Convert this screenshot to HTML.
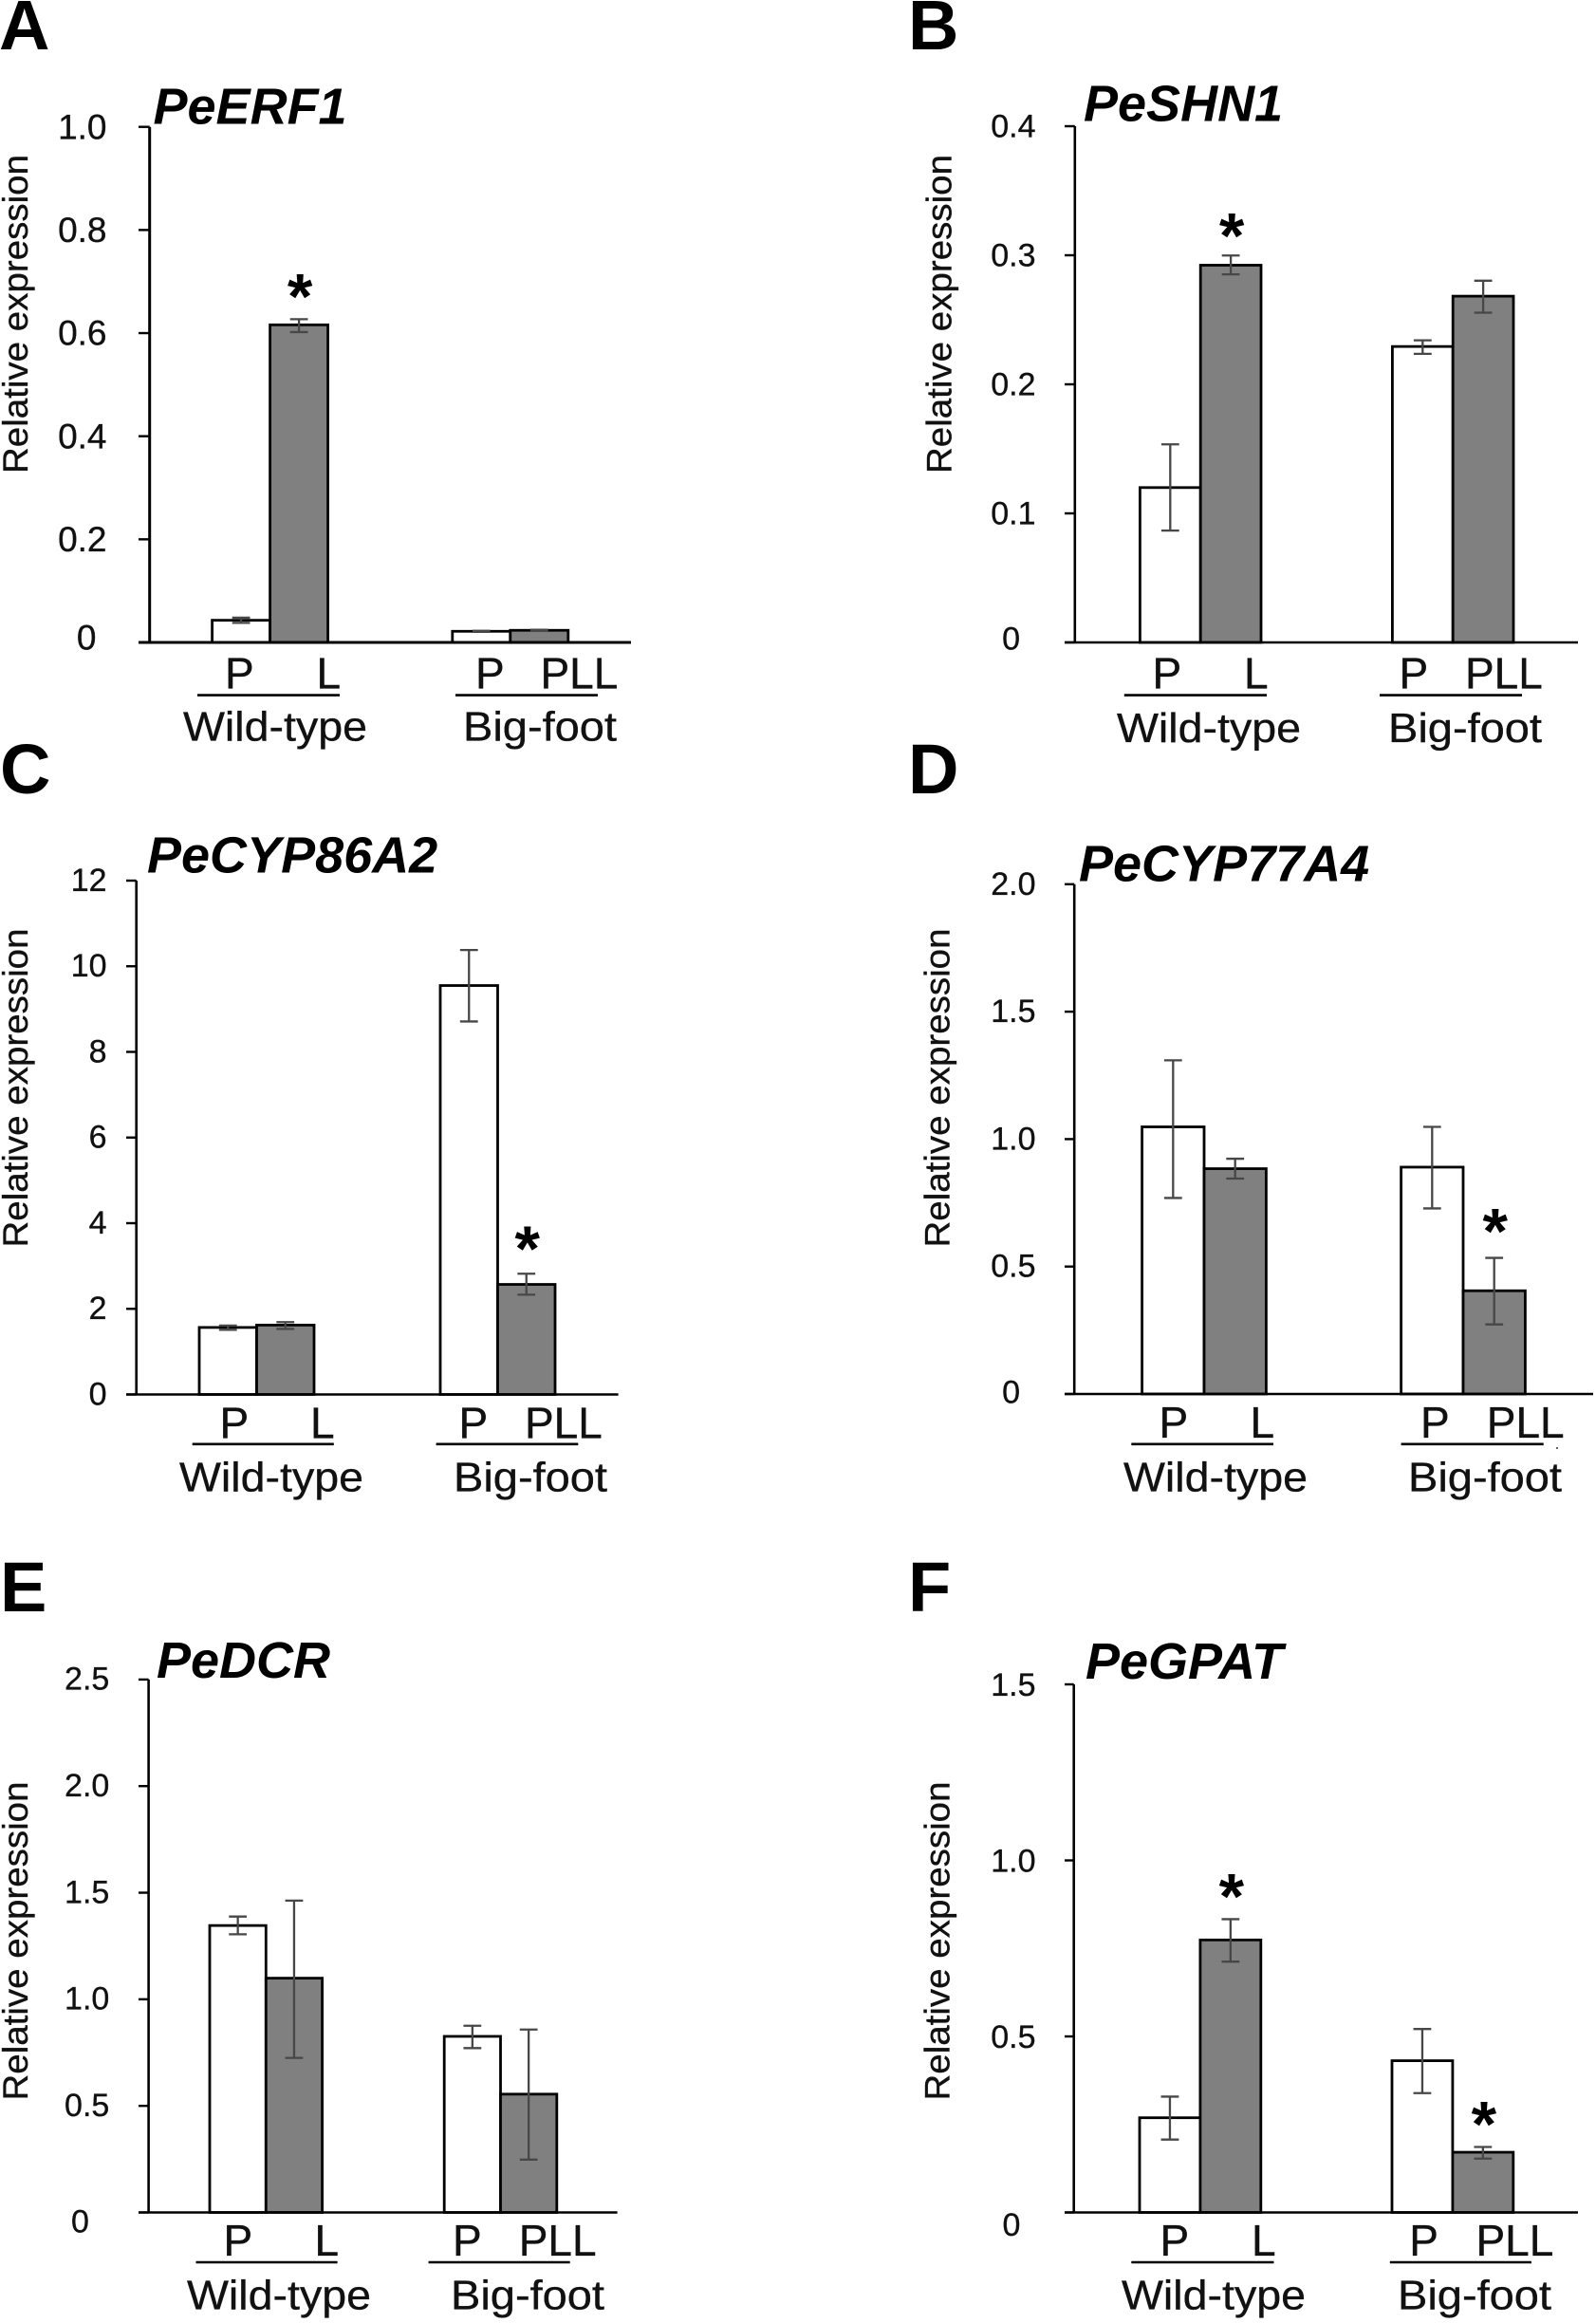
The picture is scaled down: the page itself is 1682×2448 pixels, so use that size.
<!DOCTYPE html>
<html lang="en">
<head>
<meta charset="utf-8">
<title>Relative expression of cuticle genes</title>
<style>
html,body{margin:0;padding:0;background:#fff;}
svg{display:block;}
text{font-family:"Liberation Sans",Arial,sans-serif;fill:#111;stroke:#111;stroke-width:0.35px;}
</style>
</head>
<body>
<svg id="figure" xmlns="http://www.w3.org/2000/svg" width="1682" height="2448" viewBox="0 0 1682 2448">
<rect x="0" y="0" width="1682" height="2448" fill="#ffffff"/>
</svg>
<script>
// Shared categories
const sampleLabels = ['P', 'L', 'P', 'PLL'];
const groupLabels = ['Wild-type', 'Big-foot'];
const yAxisTitle = 'Relative expression';

// Panel A - PeERF1
const erf1Values = [0.043, 0.616, 0.0216, 0.0235];
const erf1Upper = [0.048, 0.627, 0.0226, 0.0245];
const erf1Lower = [0.038, 0.602, 0.0206, 0.0225];
const erf1Ticks = [0, 0.2, 0.4, 0.6, 0.8, 1.0];
const erf1TickLabels = ['0', '0.2', '0.4', '0.6', '0.8', '1.0'];
const erf1Starred = [false, true, false, false];

// Panel B - PeSHN1
const shn1Values = [0.12, 0.2923, 0.2293, 0.2683];
const shn1Upper = [0.1535, 0.2998, 0.2341, 0.2803];
const shn1Lower = [0.0867, 0.2852, 0.2236, 0.2555];
const shn1Ticks = [0, 0.1, 0.2, 0.3, 0.4];
const shn1TickLabels = ['0', '0.1', '0.2', '0.3', '0.4'];
const shn1Starred = [false, true, false, false];

// Panel C - PeCYP86A2
const cyp86Values = [1.565, 1.62, 9.55, 2.57];
const cyp86Upper = [1.61, 1.69, 10.38, 2.82];
const cyp86Lower = [1.51, 1.53, 8.71, 2.33];
const cyp86Ticks = [0, 2, 4, 6, 8, 10, 12];
const cyp86TickLabels = ['0', '2', '4', '6', '8', '10', '12'];
const cyp86Starred = [false, false, false, true];

// Panel D - PeCYP77A4
const cyp77Values = [1.048, 0.884, 0.89, 0.405];
const cyp77Upper = [1.309, 0.923, 1.048, 0.534];
const cyp77Lower = [0.769, 0.845, 0.728, 0.273];
const cyp77Ticks = [0, 0.5, 1.0, 1.5, 2.0];
const cyp77TickLabels = ['0', '0.5', '1.0', '1.5', '2.0'];
const cyp77Starred = [false, false, false, true];

// Panel E - PeDCR
const dcrValues = [1.346, 1.099, 0.826, 0.555];
const dcrUpper = [1.388, 1.463, 0.876, 0.858];
const dcrLower = [1.305, 0.725, 0.771, 0.248];
const dcrTicks = [0, 0.5, 1.0, 1.5, 2.0, 2.5];
const dcrTickLabels = ['0', '0.5', '1.0', '1.5', '2.0', '2.5'];
const dcrStarred = [false, false, false, false];

// Panel F - PeGPAT
const gpatValues = [0.269, 0.774, 0.431, 0.171];
const gpatUpper = [0.329, 0.833, 0.521, 0.186];
const gpatLower = [0.207, 0.7125, 0.339, 0.153];
const gpatTicks = [0, 0.5, 1.0, 1.5];
const gpatTickLabels = ['0', '0.5', '1.0', '1.5'];
const gpatStarred = [false, true, false, true];

const panels = [
  {letter:'A', letterX:-1, letterY:52, gene:'PeERF1', geneX:161.5, geneY:130.5,
   values:erf1Values, upper:erf1Upper, lower:erf1Lower, ticks:erf1Ticks, tickLabels:erf1TickLabels, starred:erf1Starred,
   axisX:157.7, top:133.7, bottom:677, tickLeft:146, right:665, axisW:3,
   g1:223.6, g2:476.8, barW:61, tickRight:112.5, tickDy:12.7, tickFont:37, zeroRight:101.5, zeroDy:7.7,
   titleX:29, titleCy:331, starGap:37,
   labelY:725.5, p1:237, l1:333.5, p2:501, pl:569.5, ruleY:732.6,
   rule1a:208, rule1b:358, rule2a:480, rule2b:630, groupY:780.6, wt:193, bf:488},
  {letter:'B', letterX:957, letterY:52, gene:'PeSHN1', geneX:1142, geneY:127.5,
   values:shn1Values, upper:shn1Upper, lower:shn1Lower, ticks:shn1Ticks, tickLabels:shn1TickLabels, starred:shn1Starred,
   axisX:1132.8, top:133, bottom:677, tickLeft:1122, right:1663, axisW:2.6,
   g1:1201.4, g2:1467.4, barW:63.8, tickRight:1091.5, tickDy:11.4, tickFont:34, zeroRight:1075, zeroDy:7.7,
   titleX:1002.5, titleCy:331, starGap:34,
   labelY:725.5, p1:1214.5, l1:1311, p2:1474.5, pl:1544, ruleY:732.6,
   rule1a:1184.8, rule1b:1335, rule2a:1454, rule2b:1604, groupY:782, wt:1177, bf:1463},
  {letter:'C', letterX:0, letterY:836, gene:'PeCYP86A2', geneX:155, geneY:919.5,
   values:cyp86Values, upper:cyp86Upper, lower:cyp86Lower, ticks:cyp86Ticks, tickLabels:cyp86TickLabels, starred:cyp86Starred,
   axisX:143.7, top:928, bottom:1469.5, tickLeft:133, right:651.6, axisW:2.6,
   g1:210, g2:464, barW:60.5, tickRight:112.6, tickDy:10.8, tickFont:34, zeroRight:112.6, zeroDy:10.8,
   titleX:29, titleCy:1146.5, starGap:39,
   labelY:1515.5, p1:231.5, l1:327, p2:483.5, pl:553, ruleY:1521.8,
   rule1a:202.7, rule1b:351.8, rule2a:459.6, rule2b:609.3, groupY:1571.4, wt:189, bf:478},
  {letter:'D', letterX:957, letterY:836, gene:'PeCYP77A4', geneX:1137, geneY:928.7,
   values:cyp77Values, upper:cyp77Upper, lower:cyp77Lower, ticks:cyp77Ticks, tickLabels:cyp77TickLabels, starred:cyp77Starred,
   axisX:1132.2, top:931.8, bottom:1469, tickLeft:1122, right:1679, axisW:2.6,
   g1:1203.6, g2:1476.6, barW:65.4, tickRight:1091.5, tickDy:11, tickFont:34, zeroRight:1075, zeroDy:9.3,
   titleX:1000.5, titleCy:1146.5, starGap:41,
   labelY:1515, p1:1221.5, l1:1317.5, p2:1497, pl:1566.8, ruleY:1521.8,
   rule1a:1192.3, rule1b:1342, rule2a:1476.6, rule2b:1626.7, groupY:1571.4, wt:1184, bf:1484},
  {letter:'E', letterX:0, letterY:1698, gene:'PeDCR', geneX:165, geneY:1767.8,
   values:dcrValues, upper:dcrUpper, lower:dcrLower, ticks:dcrTicks, tickLabels:dcrTickLabels, starred:dcrStarred,
   axisX:156.6, top:1769.9, bottom:2331.5, tickLeft:146, right:650.6, axisW:2.6,
   g1:221, g2:468.2, barW:59.3, tickRight:115.3, tickDy:10.8, tickFont:34, zeroRight:93.9, zeroDy:21,
   titleX:29, titleCy:2045.5, starGap:30,
   labelY:2376.9, p1:235.5, l1:331.5, p2:477, pl:546.7, ruleY:2384,
   rule1a:206.5, rule1b:355.6, rule2a:451.6, rule2b:600.7, groupY:2433.6, wt:197, bf:475},
  {letter:'F', letterX:957, letterY:1698, gene:'PeGPAT', geneX:1144, geneY:1768.8,
   values:gpatValues, upper:gpatUpper, lower:gpatLower, ticks:gpatTicks, tickLabels:gpatTickLabels, starred:gpatStarred,
   axisX:1131.7, top:1775, bottom:2331.5, tickLeft:1122, right:1663, axisW:2.6,
   g1:1201, g2:1467, barW:63.9, tickRight:1091.5, tickDy:11.9, tickFont:34, zeroRight:1075.4, zeroDy:24.7,
   titleX:1000.5, titleCy:2045.5, starGap:37,
   labelY:2376.9, p1:1222.5, l1:1319, p2:1485.3, pl:1555.5, ruleY:2384,
   rule1a:1192.3, rule1b:1342.5, rule2a:1464.8, rule2b:1613.9, groupY:2433.6, wt:1182, bf:1473}
];

const svgNS = 'http://www.w3.org/2000/svg';
const root = document.getElementById('figure');

function add(parent, tag, attrs, text) {
  const node = document.createElementNS(svgNS, tag);
  for (const key in attrs) node.setAttribute(key, attrs[key]);
  if (text !== undefined) node.textContent = text;
  parent.appendChild(node);
  return node;
}

function yScale(p, v) {
  const max = p.ticks[p.ticks.length - 1];
  return p.bottom - (v / max) * (p.bottom - p.top);
}

function xScale(p, i) {
  const groupLeft = i < 2 ? p.g1 : p.g2;
  return groupLeft + (i % 2) * p.barW;
}

function drawPanel(p) {
  const id = p.gene.toLowerCase();
  let el;
  const g = add(root, 'g', {});
  
  

  el = add(g, 'text', {x:p.letterX, y:p.letterY, 'font-size':74, 'font-weight':'bold', style:'fill:#000;stroke:none'}, p.letter);
  
  

  el = add(g, 'text', {x:p.geneX, y:p.geneY, 'font-size':54, 'font-weight':'bold', 'font-style':'italic', style:'fill:#000;stroke:none'}, p.gene);
  
  

  el = add(g, 'text', {transform:'translate(' + p.titleX + ',' + p.titleCy + ') rotate(-90)', 'text-anchor':'middle', 'font-size':37, textLength:336, lengthAdjust:'spacingAndGlyphs'}, yAxisTitle);
  
  

  // bars
  p.values.forEach(function (v, i) {
    const left = xScale(p, i);
    const y = yScale(p, v);
    const bar = add(g, 'rect', {x:left, y:y, width:p.barW, height:p.bottom - y, fill:i % 2 ? '#808080' : '#ffffff', stroke:'#000', 'stroke-width':2.8});
    
    
  });

  // error bars and significance stars
  p.values.forEach(function (v, i) {
    const cx = xScale(p, i) + p.barW / 2;
    const yUp = yScale(p, p.upper[i]);
    const yLow = yScale(p, p.lower[i]);
    const err = add(g, 'path', {d:'M' + cx + ' ' + yUp + 'V' + yLow + 'M' + (cx - 9.4) + ' ' + yUp + 'H' + (cx + 9.4) + 'M' + (cx - 9.4) + ' ' + yLow + 'H' + (cx + 9.4), fill:'none', stroke:'#474747', 'stroke-width':2.3});
    
    
    if (p.starred[i]) {
      const star = add(g, 'text', {x:cx + 1, y:yUp - p.starGap + 36, 'text-anchor':'middle', 'font-size':68, 'font-weight':'bold', style:'fill:#000;stroke:none'}, '*');
      
      
    }
  });

  // axes
  el = add(g, 'line', {x1:p.axisX, y1:p.top, x2:p.axisX, y2:p.bottom, stroke:'#000', 'stroke-width':p.axisW});
  
  

  el = add(g, 'line', {x1:p.tickLeft, y1:p.bottom, x2:p.right, y2:p.bottom, stroke:'#000', 'stroke-width':p.axisW});
  
  

  p.ticks.forEach(function (t, i) {
    const y = yScale(p, t);
    const tick = add(g, 'line', {x1:p.tickLeft, y1:y, x2:p.axisX, y2:y, stroke:'#000', 'stroke-width':2.4});
    
    
    const isZero = t === 0;
    const lab = add(g, 'text', {x:isZero ? p.zeroRight : p.tickRight, y:y + (isZero ? p.zeroDy : p.tickDy), 'text-anchor':'end', 'font-size':p.tickFont}, p.tickLabels[i]);
    
    
  });

  // sample labels
  const sampleX = [p.p1, p.l1, p.p2, p.pl];
  sampleLabels.forEach(function (s, i) {
    const lab = add(g, 'text', {x:sampleX[i], y:p.labelY, 'font-size':46}, s);
    
    
  });

  // group rules and labels
  el = add(g, 'line', {x1:p.rule1a, y1:p.ruleY, x2:p.rule1b, y2:p.ruleY, stroke:'#000', 'stroke-width':2.6});
  
  

  el = add(g, 'line', {x1:p.rule2a, y1:p.ruleY, x2:p.rule2b, y2:p.ruleY, stroke:'#000', 'stroke-width':2.6});
  
  

  el = add(g, 'text', {x:p.wt, y:p.groupY, 'font-size':44, textLength:194, lengthAdjust:'spacingAndGlyphs'}, groupLabels[0]);
  
  

  el = add(g, 'text', {x:p.bf, y:p.groupY, 'font-size':44, textLength:162, lengthAdjust:'spacingAndGlyphs'}, groupLabels[1]);
  
  
}

panels.forEach(drawPanel);

const speck = add(root, 'circle', {cx:1641, cy:1526, r:1, fill:'#333'});


</script>
</body>
</html>
